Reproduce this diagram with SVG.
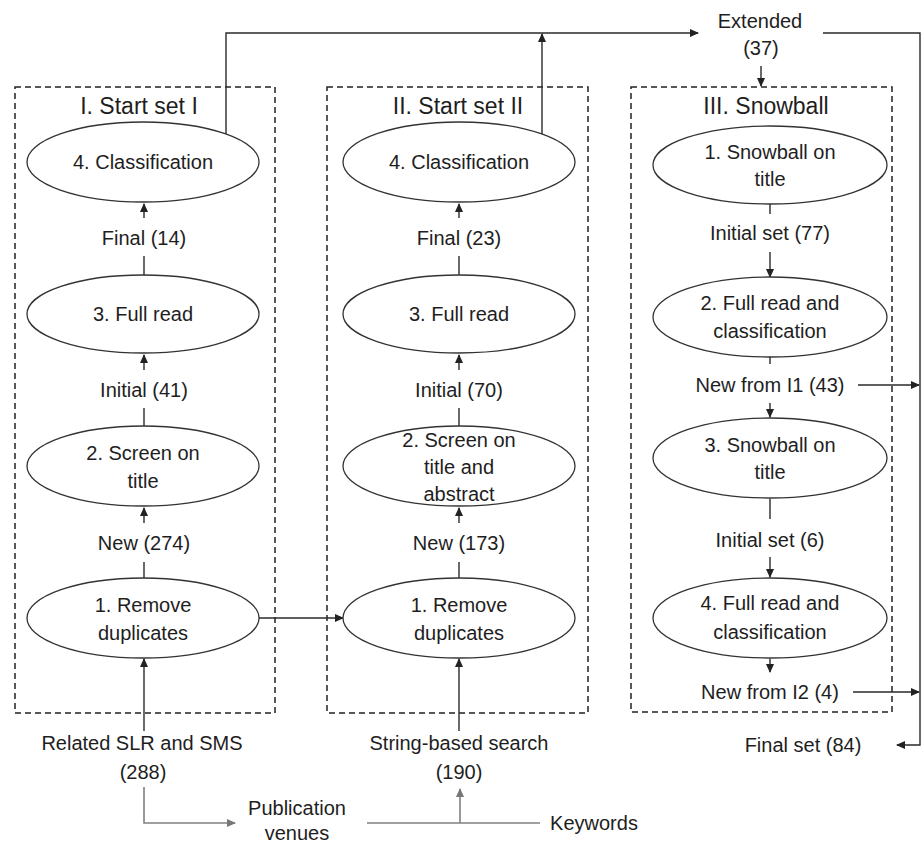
<svg xmlns="http://www.w3.org/2000/svg" width="923" height="843" viewBox="0 0 923 843">
<style>
text{font-family:"Liberation Sans",Arial,sans-serif;font-size:20px;fill:#1e1e1e;text-anchor:middle}
.ttl{font-size:23px}
.box{fill:none;stroke:#222;stroke-width:1.5;stroke-dasharray:6,4}
.el{fill:#fff;stroke:#333;stroke-width:1.3}
.ln{fill:none;stroke:#2a2a2a;stroke-width:1.4}
.gl{fill:none;stroke:#808080;stroke-width:1.6}
</style>
<defs>
<marker id="ah" markerWidth="9" markerHeight="8" refX="8" refY="4" orient="auto" markerUnits="userSpaceOnUse"><path d="M0,0 L9,4 L0,8 z" fill="#222"/></marker>
<marker id="ag" markerWidth="9" markerHeight="8" refX="8" refY="4" orient="auto" markerUnits="userSpaceOnUse"><path d="M0,0 L9,4 L0,8 z" fill="#777"/></marker>
</defs>
<rect width="923" height="843" fill="#fff"/>

<g id="boxI"><rect class="box" x="15" y="87" width="260" height="626"/><text class="ttl" x="139" y="114">I. Start set I</text></g>
<g id="boxII"><rect class="box" x="327" y="87" width="261" height="626"/><text class="ttl" x="458" y="114">II. Start set II</text></g>
<g id="boxIII"><rect class="box" x="631" y="87" width="261" height="625"/><text class="ttl" x="766" y="114">III. Snowball</text></g>

<g id="connectors">
<path class="ln" d="M144,218 V204" marker-end="url(#ah)"/>
<path class="ln" d="M144,275 V256"/>
<path class="ln" d="M144,370 V355" marker-end="url(#ah)"/>
<path class="ln" d="M144,426 V408"/>
<path class="ln" d="M144,523 V508" marker-end="url(#ah)"/>
<path class="ln" d="M144,578 V562"/>
<path class="ln" d="M459,218 V204" marker-end="url(#ah)"/>
<path class="ln" d="M459,275 V256"/>
<path class="ln" d="M459,370 V355" marker-end="url(#ah)"/>
<path class="ln" d="M459,426 V408"/>
<path class="ln" d="M459,523 V508" marker-end="url(#ah)"/>
<path class="ln" d="M459,578 V562"/>
<path class="ln" d="M770,204 V214"/>
<path class="ln" d="M770,252 V277" marker-end="url(#ah)"/>
<path class="ln" d="M770,357 V364"/>
<path class="ln" d="M770,403 V417" marker-end="url(#ah)"/>
<path class="ln" d="M770,499 V519"/>
<path class="ln" d="M770,557 V577" marker-end="url(#ah)"/>
<path class="ln" d="M770,659 V672" marker-end="url(#ah)"/>
<path class="ln" d="M858,385 H919" marker-end="url(#ah)"/>
<path class="ln" d="M853,692 H919" marker-end="url(#ah)"/>
<path class="ln" d="M226,134 V33 H698" marker-end="url(#ah)"/>
<path class="ln" d="M542,134 V34" marker-end="url(#ah)"/>
<path class="ln" d="M761,66 V86" marker-end="url(#ah)"/>
<path class="ln" d="M823,33 H920 V745 H897" marker-end="url(#ah)"/>
<path class="ln" d="M259,618 H343" marker-end="url(#ah)"/>
<path class="ln" d="M144,731 V659" marker-end="url(#ah)"/>
<path class="ln" d="M459,731 V659" marker-end="url(#ah)"/>
<path class="gl" d="M144,787 V823 H235" marker-end="url(#ag)"/>
<path class="gl" d="M367,823 H540"/>
<path class="gl" d="M460,823 V789" marker-end="url(#ag)"/>
</g>

<g id="I4"><ellipse class="el" cx="143" cy="162" rx="116" ry="40"/><text x="143" y="169">4. Classification</text></g>
<g id="I3"><ellipse class="el" cx="143" cy="314" rx="116" ry="39"/><text x="143" y="321">3. Full read</text></g>
<g id="I2"><ellipse class="el" cx="143" cy="466" rx="116" ry="40"/><text x="143" y="460">2. Screen on</text><text x="143" y="488">title</text></g>
<g id="I1"><ellipse class="el" cx="143" cy="618" rx="116" ry="40"/><text x="143" y="612">1. Remove</text><text x="143" y="640">duplicates</text></g>
<g id="lblI"><text x="144" y="245">Final (14)</text><text x="144" y="397">Initial (41)</text><text x="144" y="550">New (274)</text></g>

<g id="II4"><ellipse class="el" cx="459" cy="162" rx="116" ry="40"/><text x="459" y="169">4. Classification</text></g>
<g id="II3"><ellipse class="el" cx="459" cy="314" rx="116" ry="39"/><text x="459" y="321">3. Full read</text></g>
<g id="II2"><ellipse class="el" cx="459" cy="466" rx="116" ry="40"/><text x="459" y="447">2. Screen on</text><text x="459" y="474">title and</text><text x="459" y="501">abstract</text></g>
<g id="II1"><ellipse class="el" cx="459" cy="618" rx="116" ry="40"/><text x="459" y="612">1. Remove</text><text x="459" y="640">duplicates</text></g>
<g id="lblII"><text x="459" y="245">Final (23)</text><text x="459" y="397">Initial (70)</text><text x="459" y="550">New (173)</text></g>

<g id="III1"><ellipse class="el" cx="770" cy="165" rx="117" ry="39"/><text x="770" y="159">1. Snowball on</text><text x="770" y="186">title</text></g>
<g id="III2"><ellipse class="el" cx="770" cy="317" rx="117" ry="40"/><text x="770" y="310">2. Full read and</text><text x="770" y="338">classification</text></g>
<g id="III3"><ellipse class="el" cx="770" cy="458" rx="117" ry="40"/><text x="770" y="452">3. Snowball on</text><text x="770" y="479">title</text></g>
<g id="III4"><ellipse class="el" cx="770" cy="618" rx="117" ry="40"/><text x="770" y="610">4. Full read and</text><text x="770" y="639">classification</text></g>
<g id="lblIII"><text x="770" y="240">Initial set (77)</text><text x="770" y="392">New from I1 (43)</text><text x="770" y="547">Initial set (6)</text><text x="770" y="699">New from I2 (4)</text></g>

<g id="extended"><text x="760" y="28">Extended</text><text x="761" y="55">(37)</text></g>
<g id="finalset"><text x="803" y="752">Final set (84)</text></g>
<g id="related"><text x="142" y="750">Related SLR and SMS</text><text x="143" y="779">(288)</text></g>
<g id="string"><text x="459" y="750">String-based search</text><text x="459" y="779">(190)</text></g>
<g id="venues"><text x="297" y="815">Publication</text><text x="297" y="840">venues</text></g>
<g id="keywords"><text x="594" y="830">Keywords</text></g>
</svg>
